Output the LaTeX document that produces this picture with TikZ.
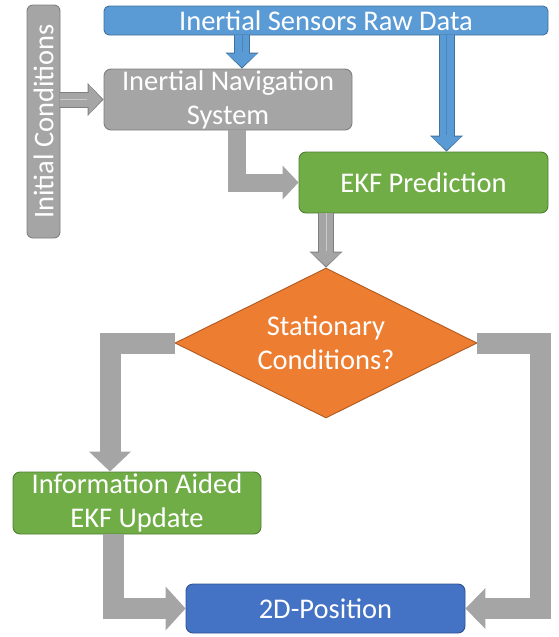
\documentclass[tikz,border=0pt]{standalone}
\usepackage{fontspec}
\setmainfont{Carlito}
\usetikzlibrary{shapes.geometric,arrows.meta}
\definecolor{bluefill}{HTML}{5B9BD5}
\definecolor{blueedge}{HTML}{41719C}
\definecolor{bluemid}{HTML}{4A86BE}
\definecolor{grayfill}{HTML}{A5A5A5}
\definecolor{grayedge}{HTML}{7F7F7F}
\definecolor{graymid}{HTML}{C9C9C9}
\definecolor{greenfill}{HTML}{70AD47}
\definecolor{greenedge}{HTML}{507E32}
\definecolor{orangefill}{HTML}{ED7D31}
\definecolor{orangeedge}{HTML}{AE5A21}
\definecolor{dbluefill}{HTML}{4472C4}
\definecolor{dblueedge}{HTML}{2F528F}
\begin{document}
\begin{tikzpicture}[x=1pt,y=-1pt,
  txt/.style={text=white, font=\fontsize{28.5}{34}\selectfont},
  box/.style={draw, line width=0.9pt, rounded corners=7pt, inner sep=0pt,
    align=center, txt},
  graybox/.style={box, fill=grayfill, draw=grayedge},
  bluebox/.style={box, fill=bluefill, draw=blueedge},
  greenbox/.style={box, fill=greenfill, draw=greenedge},
  dbluebox/.style={box, fill=dbluefill, draw=dblueedge},
  decision/.style={diamond, aspect=2, draw=orangeedge, fill=orangefill, line width=0.9pt,
    inner sep=0pt, align=center, txt},
  edgearrow/.style={draw=#1, line width=16pt,
    -{Triangle[width=33pt,length=16pt,line width=0pt]}},
  fillarrow/.style={draw=#1, line width=14pt, shorten >=1.5pt,
    -{Triangle[width=30pt,length=13.5pt,line width=0pt]}},
  midline/.style={draw=#1, line width=0.7pt, shorten >=17pt},
  bent/.style={draw=grayfill, line width=#1, line join=miter},
  bigtip/.style 2 args={-{Triangle[width=#1,length=#2,line width=0pt]}}
]
\useasboundingbox (0,0) rectangle (558,637);

% nodes
\node[graybox, rounded corners=6pt, minimum width=33pt, minimum height=233pt,
  label={[rotate=90, txt]center:Initial Conditions}]
  (ic) at (43.5,121.5) {};
\node[bluebox, rounded corners=5pt, minimum width=444pt, minimum height=29pt]
  (raw) at (326,20.5) {Inertial Sensors Raw Data};
\node[graybox, minimum width=248pt, minimum height=61pt]
  (ins) at (228,99.5) {Inertial Navigation\\System};
\node[greenbox, minimum width=249pt, minimum height=61pt]
  (ekf) at (423.5,182.5) {EKF Prediction};
\node[decision, minimum width=302pt, minimum height=150pt]
  (dia) at (326,343) {Stationary\\Conditions?};
\node[greenbox, minimum width=248pt, minimum height=62pt]
  (info) at (137,503) {Information Aided\\EKF Update};
\node[dbluebox, minimum width=279pt, minimum height=49pt]
  (pos) at (325.5,608.5) {2D-Position};

% helper coordinates
\coordinate (a1) at ([xshift=14pt]ins.north);
\coordinate (a2) at ([xshift=23pt]ekf.north);
\coordinate (insout) at ([xshift=9pt]ins.south);
\coordinate (infoin) at ([xshift=-27pt]info.north);
\coordinate (infoout) at ([xshift=-24pt]info.south);
\coordinate (posturn) at ([xshift=75pt]pos.east);

% raw data -> INS
\draw[edgearrow=blueedge] (a1 |- raw.south) -- (a1);
\draw[fillarrow=bluefill] (a1 |- raw.south) -- (a1);
\draw[midline=bluemid] (a1 |- raw.south) -- (a1);
% raw data -> EKF prediction
\draw[edgearrow=blueedge] (a2 |- raw.south) -- (a2);
\draw[fillarrow=bluefill] (a2 |- raw.south) -- (a2);
\draw[midline=bluemid] (a2 |- raw.south) -- (a2);
% initial conditions -> INS
\draw[edgearrow=grayedge] (ic.east |- ins.west) -- (ins.west);
\draw[fillarrow=grayfill] (ic.east |- ins.west) -- (ins.west);
\draw[midline=graymid] (ic.east |- ins.west) -- (ins.west);
% EKF prediction -> decision
\draw[edgearrow=grayedge] (ekf.south -| dia.north) -- (dia.north);
\draw[fillarrow=grayfill] (ekf.south -| dia.north) -- (dia.north);
\draw[midline=graymid] (ekf.south -| dia.north) -- (dia.north);
% INS -> EKF prediction
\draw[bent=18pt, bigtip={34pt}{16pt}] (insout) |- (ekf.west);
% decision -> information aided update
\draw[bent=21pt, bigtip={42pt}{20pt}] (dia.west) -| (infoin);
% decision -> 2D position
\draw[bent=21pt, bigtip={41pt}{20pt}] (dia.east) -| (posturn) -- (pos.east);
% information aided update -> 2D position
\draw[bent=21pt, bigtip={44pt}{20pt}] (infoout) |- (pos.west);
\end{tikzpicture}
\end{document}
